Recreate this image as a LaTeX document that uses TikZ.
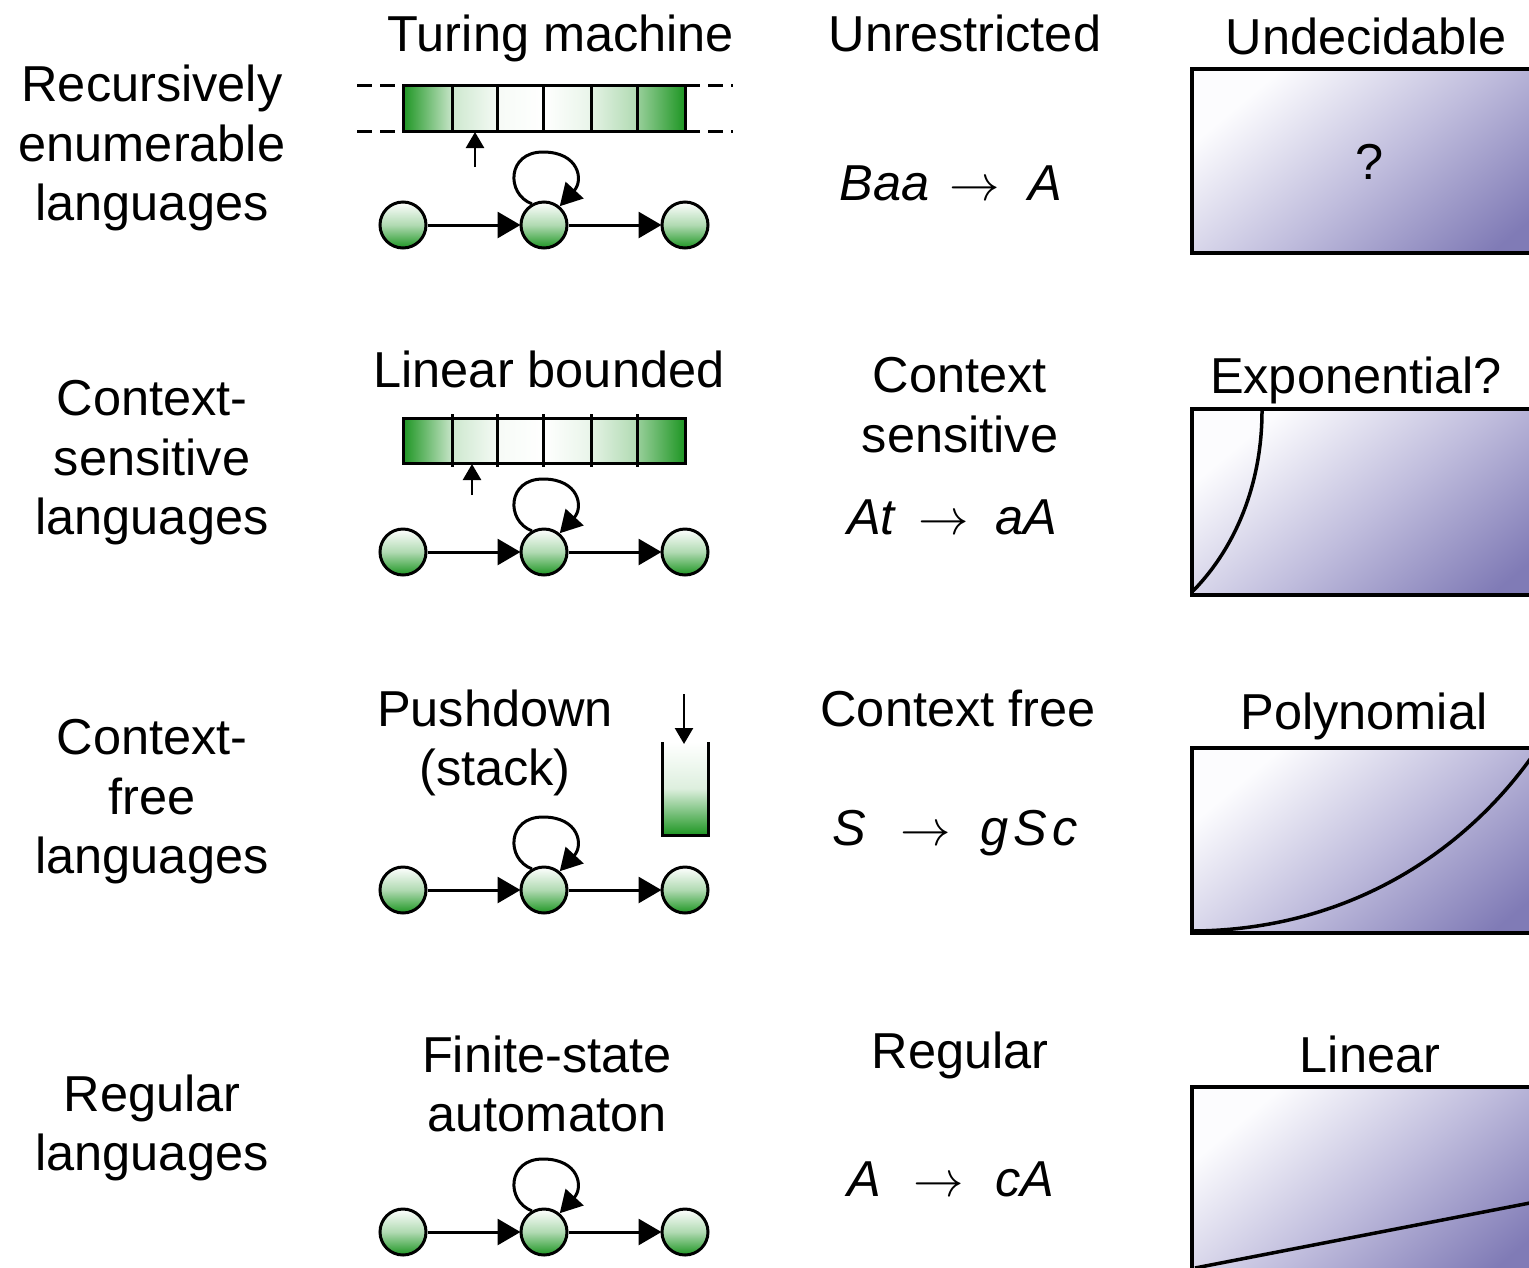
\RequirePackage{fix-cm}
\documentclass[tikz,border=0pt]{standalone}
\usepackage{fontspec}
\setmainfont{Liberation Sans}
\usetikzlibrary{arrows.meta,calc}
\definecolor{tgreen}{RGB}{30,150,35}
\definecolor{boxlight}{RGB}{252,252,254}
\definecolor{boxmid}{RGB}{192,189,221}
\definecolor{boxdark}{RGB}{128,123,182}
\tikzset{
 lbl/.style={font=\fontsize{50.5}{59.5}\selectfont, align=center, inner sep=0pt},
 stnode/.style={circle, draw, line width=3pt, minimum size=46pt, inner sep=0pt,
   top color=white, bottom color=tgreen, middle color=tgreen!35},
 trans/.style={line width=3pt, -{Triangle[length=23pt,width=26pt]}, shorten >=-1pt},
 loopar/.style={line width=3pt, -{Triangle[length=22pt,width=24pt]}},
 headar/.style={line width=2.5pt, -{Triangle[length=16pt,width=18pt]}},
 cellbox/.style={draw, line width=3pt},
 cbox/.style={draw, line width=4pt, top color=boxlight, bottom color=boxdark, middle color=boxmid, shading angle=40},
 crv/.style={line width=3.5pt},
 tapedash/.style={line width=3pt, dash pattern=on 15pt off 8pt},
}
\newcommand{\selfloop}[1]{%
  \draw[loopar] (#1.120) .. controls +(-26,-10) and ($(#1)+(-37,-73)$) ..
    ($(#1)+(-1,-73)$) .. controls ($(#1)+(35,-73)$) and ($(#1.50)+(24,-26)$) .. (#1.50);}
\begin{document}
\begin{tikzpicture}[x=1pt,y=-1pt]
\clip (0,0) rectangle (1529,1267);
\fill[white] (0,0) rectangle (1529,1267);

% ---------- left column ----------
\node[lbl] (l1) at (152,148) {Recursively\\enumerable\\languages};
\node[lbl] (l2) at (152,463) {Context-\\sensitive\\languages};
\node[lbl] (l3) at (152,802) {Context-\\free\\languages};
\node[lbl] (l4) at (152,1128) {Regular\\languages};

% ---------- automata titles ----------
\node[lbl, anchor=base] (t1) at (561,51) {Turing machine};
\node[lbl, anchor=base] (t2) at (549,387) {Linear bounded};
\node[lbl] (t3) at (495,743) {Pushdown\\(stack)};
\node[lbl] (t4) at (547,1084) {Finite-state\\automaton};

% ---------- grammars ----------
\node[lbl, anchor=base] (g1) at (965,51) {Unrestricted};
\node[lbl, anchor=base] (r1) at (951,200) {\itshape Baa\hspace{20pt}\upshape$\rightarrow$\hspace{28pt}\itshape A};
\node[lbl] (g2) at (960,405) {Context\\sensitive};
\node[lbl, anchor=base] (r2) at (952,534) {\itshape At\hspace{24pt}\upshape$\rightarrow$\hspace{26pt}\itshape aA};
\node[lbl, anchor=base] (g3) at (958,726) {Context free};
\node[lbl, anchor=base] (r3) at (955,845) {\itshape S\hspace{34pt}\upshape$\rightarrow$\hspace{30pt}\itshape g\kern5pt S\kern5pt c};
\node[lbl, anchor=base] (g4) at (960,1068) {Regular};
\node[lbl, anchor=base] (r4) at (951,1196) {\itshape A\hspace{32pt}\upshape$\rightarrow$\hspace{32pt}\itshape cA};

% ---------- complexity boxes ----------
\draw[cbox] (1192,69) rectangle (1580,253);
\draw[cbox] (1192,409) rectangle (1580,595);
\draw[cbox] (1192,748) rectangle (1580,933);
\draw[cbox] (1192,1087) rectangle (1580,1272);
\node[lbl, anchor=base] (c1) at (1366,54) {Undecidable};
\node[lbl, anchor=base] (c2) at (1356,393) {Exponential?};
\node[lbl, anchor=base] (c3) at (1364,729) {Polynomial};
\node[lbl, anchor=base] (c4) at (1370,1072) {Linear};
\node[lbl] (q) at (1370,162) {?};
\draw[crv] (1193,591) .. controls (1238,545) and (1262,480) .. (1262,411);
\draw[crv] (1193,931) .. controls (1350,930) and (1470,850) .. (1540,745);
\draw[crv] (1195,1268) -- (1535,1202);

% ---------- row 1: Turing machine ----------
\foreach \a/\b/\l/\r in {403/452/tgreen/tgreen!25, 452/497/tgreen!22/tgreen!5, 497/543/tgreen!4/white, 543/591/white/tgreen!10, 591/637/tgreen!12/tgreen!35, 637/685/tgreen!45/tgreen}
  \draw[cellbox, left color=\l, right color=\r] (\a,85) rectangle (\b,131);
\draw[tapedash] (357,85) -- (403,85);
\draw[tapedash] (357,131) -- (403,131);
\draw[tapedash] (685,85) -- (733,85);
\draw[tapedash] (685,131) -- (733,131);
\coordinate (h1a) at (475,167);
\coordinate (h1b) at (475,132);
\draw[headar] (h1a) -- (h1b);
\node[stnode] (a1) at (403,225) {};
\node[stnode] (b1) at (544,225) {};
\node[stnode] (c1s) at (685,225) {};
\draw[trans] (a1) -- (b1);
\draw[trans] (b1) -- (c1s);
\selfloop{b1}

% ---------- row 2: linear bounded ----------
\foreach \a/\b/\l/\r in {403/452/tgreen/tgreen!25, 452/497/tgreen!22/tgreen!5, 497/543/tgreen!4/white, 543/591/white/tgreen!10, 591/637/tgreen!12/tgreen!35, 637/685/tgreen!45/tgreen}
  \draw[cellbox, left color=\l, right color=\r] (\a,418) rectangle (\b,463);
\foreach \a in {452,497,543,591,637}
  \draw[line width=3pt] (\a,414) -- (\a,467);
\coordinate (h2a) at (472,495);
\coordinate (h2b) at (472,464);
\draw[headar] (h2a) -- (h2b);
\node[stnode] (a2) at (403,552) {};
\node[stnode] (b2) at (544,552) {};
\node[stnode] (c2s) at (685,552) {};
\draw[trans] (a2) -- (b2);
\draw[trans] (b2) -- (c2s);
\selfloop{b2}

% ---------- row 3: pushdown ----------
\shade[top color=white, bottom color=tgreen, middle color=tgreen!15] (662,742) rectangle (708,835);
\draw[line width=3pt] (662,742) -- (662,835) -- (708,835) -- (708,742);
\coordinate (sa) at (684,694);
\coordinate (sb) at (684,744);
\draw[headar] (sa) -- (sb);
\node[stnode] (a3) at (403,890) {};
\node[stnode] (b3) at (544,890) {};
\node[stnode] (c3s) at (685,890) {};
\draw[trans] (a3) -- (b3);
\draw[trans] (b3) -- (c3s);
\selfloop{b3}

% ---------- row 4: finite-state ----------
\node[stnode] (a4) at (403,1232) {};
\node[stnode] (b4) at (544,1232) {};
\node[stnode] (c4s) at (685,1232) {};
\draw[trans] (a4) -- (b4);
\draw[trans] (b4) -- (c4s);
\selfloop{b4}
\end{tikzpicture}
\end{document}
